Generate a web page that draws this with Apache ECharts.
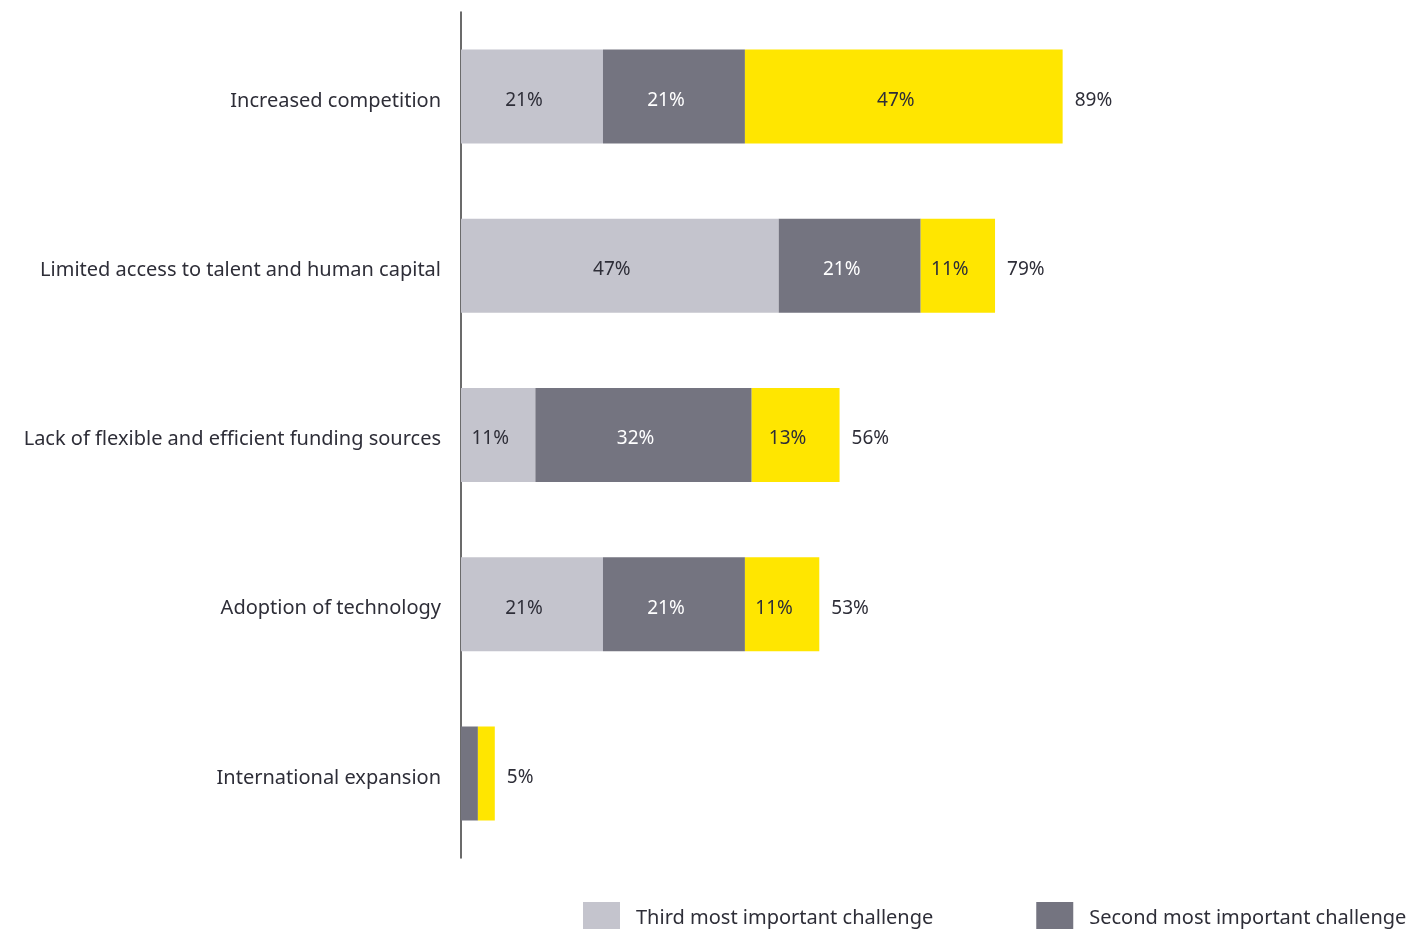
<!DOCTYPE html>
<html>
<head>
<meta charset="utf-8">
<script src="https://cdn.jsdelivr.net/npm/echarts@6/dist/echarts.min.js"></script>
<style>
  html, body { margin: 0; padding: 0; background: #fff; }
  #chart { width: 1406px; height: 929px; }
</style>
</head>
<body>
<div id="chart"></div>
<script>
// Challenges ranked by respondents (share of respondents, %)
const categories = [
  'Increased competition',
  'Limited access to talent and human capital',
  'Lack of flexible and efficient funding sources',
  'Adoption of technology',
  'International expansion'
];
const thirdMost = [21, 47, 11, 21, 0];
const secondMost = [21, 21, 32, 21, 2.5];
const mostImportant = [47, 11, 13, 11, 2.5];
const totals = [89, 79, 56, 53, 5];
const seriesNames = ['Third most important challenge', 'Second most important challenge', 'Most important challenge'];

const FONT = 'Noto Sans';
const TEXT = '#2e2e38';

// Segment labels are only drawn where the segment is wide enough to hold them
function segLabel(color) {
  return {
    show: true,
    position: 'inside',
    offset: [-8, 4],
    color: color,
    fontFamily: FONT,
    fontSize: 19,
    formatter: p => (p.value >= 5 ? p.value + '%' : '')
  };
}

const chart = echarts.init(document.getElementById('chart'));
chart.setOption({
  animation: false,
  backgroundColor: '#ffffff',
  grid: { left: 461, top: 12, width: 676, height: 846, containLabel: false },
  legend: {
    data: [seriesNames[0], seriesNames[1]],
    left: 583,
    top: 902,
    width: 1200,
    padding: 0,
    itemWidth: 37,
    itemHeight: 32,
    itemGap: 103,
    icon: 'rect',
    textStyle: { color: TEXT, fontFamily: FONT, fontSize: 20, padding: [0, 0, 0, 11] }
  },
  xAxis: {
    type: 'value',
    min: 0,
    max: 100,
    show: false
  },
  yAxis: {
    type: 'category',
    data: categories,
    inverse: true,
    axisLine: { show: true, lineStyle: { color: '#3a3a3a', width: 1.5 } },
    axisTick: { show: false },
    axisLabel: {
      margin: 20,
      formatter: v => '{c|' + v + '}',
      rich: { c: { color: TEXT, fontFamily: FONT, fontSize: 20, padding: [9, 0, 0, 0] } }
    }
  },
  series: [
    {
      name: seriesNames[0], type: 'bar', stack: 'total', barWidth: 94, barGap: '-100%',
      itemStyle: { color: '#c4c4cd' }, label: segLabel(TEXT), data: thirdMost
    },
    {
      name: seriesNames[1], type: 'bar', stack: 'total', barWidth: 94, barGap: '-100%',
      itemStyle: { color: '#747480' }, label: segLabel('#ffffff'), data: secondMost
    },
    {
      name: seriesNames[2], type: 'bar', stack: 'total', barWidth: 94, barGap: '-100%',
      itemStyle: { color: '#ffe600' }, label: segLabel(TEXT), data: mostImportant
    },
    {
      name: 'Total', type: 'bar', barWidth: 94, barGap: '-100%', silent: true, z: 1,
      itemStyle: { color: 'rgba(0,0,0,0)' },
      label: {
        show: true, position: 'right', distance: 12, offset: [0, 4],
        color: TEXT, fontFamily: FONT, fontSize: 19,
        formatter: p => p.value + '%'
      },
      data: totals
    }
  ]
});
</script>
</body>
</html>
